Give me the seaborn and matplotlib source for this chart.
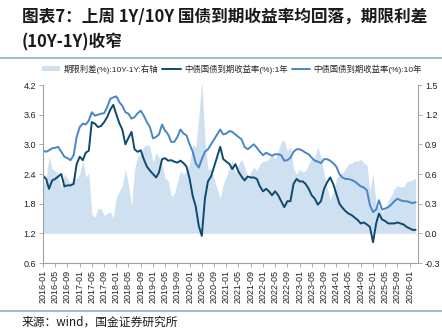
import numpy as np
import pandas as pd
import matplotlib
matplotlib.use("Agg")
import matplotlib.pyplot as plt
import seaborn as sns
from matplotlib.patches import Patch
from matplotlib.lines import Line2D

# ---- data (monthly) ----
start_month = "2016-01-01"
y10 = [2.87, 2.85, 2.88, 2.92, 2.93, 2.95, 2.85, 2.75, 2.72, 2.68, 2.78, 3.15,
       3.35, 3.42, 3.40, 3.48, 3.65, 3.58, 3.60, 3.62, 3.63, 3.75, 3.92, 3.95,
       3.97, 3.85, 3.78, 3.65, 3.62, 3.52, 3.55, 3.63, 3.68, 3.58, 3.45, 3.35,
       3.12, 3.15, 3.20, 3.40, 3.28, 3.20, 3.05, 3.05, 3.15, 3.30, 3.22, 3.18,
       3.00, 2.85, 2.62, 2.53, 2.70, 2.85, 2.90, 3.00, 3.10, 3.20, 3.30, 3.20,
       3.22, 3.27, 3.25, 3.20, 3.15, 3.10, 2.95, 2.90, 2.95, 3.00, 2.93, 2.85,
       2.78, 2.83, 2.80, 2.77, 2.80, 2.80, 2.78, 2.67, 2.68, 2.73, 2.85, 2.90,
       2.90, 2.87, 2.83, 2.80, 2.73, 2.67, 2.65, 2.62, 2.70, 2.70, 2.67, 2.62,
       2.55, 2.40, 2.33, 2.30, 2.30, 2.28, 2.25, 2.20, 2.15, 2.13, 2.07, 1.77,
       1.63, 1.68, 1.87, 1.68, 1.70, 1.73, 1.78, 1.85, 1.90, 1.87, 1.85, 1.85,
       1.83, 1.81, 1.83]
y1 = [2.37, 2.30, 2.10, 2.27, 2.30, 2.35, 2.40, 2.15, 2.17, 2.17, 2.20, 2.60,
      2.75, 2.68, 2.83, 2.87, 3.45, 3.42, 3.35, 3.37, 3.45, 3.55, 3.70, 3.80,
      3.60, 3.42, 3.30, 3.00, 3.13, 3.25, 2.90, 2.85, 2.88, 2.70, 2.55, 2.47,
      2.40, 2.33, 2.43, 2.70, 2.72, 2.67, 2.68, 2.65, 2.63, 2.67, 2.62, 2.55,
      2.30, 1.95, 1.75, 1.35, 1.15, 1.90, 2.25, 2.35, 2.55, 2.75, 2.95, 2.70,
      2.65, 2.60, 2.50, 2.60, 2.45, 2.35, 2.27, 2.35, 2.33, 2.33, 2.30, 2.15,
      2.05, 2.10, 2.05, 1.97, 2.05, 1.97, 1.85, 1.73, 1.85, 1.85, 2.20, 2.30,
      2.25, 2.25, 2.20, 2.10, 1.97, 1.90, 1.78, 1.85, 2.10, 2.23, 2.33, 2.20,
      2.00, 1.80, 1.72, 1.65, 1.60, 1.57, 1.52, 1.47, 1.40, 1.42, 1.38, 1.33,
      1.02, 1.40, 1.60, 1.48, 1.45, 1.40, 1.40, 1.40, 1.42, 1.40, 1.38, 1.33,
      1.30, 1.27, 1.27]
left_ticks = [0.6, 1.2, 1.8, 2.4, 3.0, 3.6, 4.2]
right_ticks = [-0.3, 0.0, 0.3, 0.6, 0.9, 1.2, 1.5]
legend_labels = ["期限利差(%):10Y-1Y:右轴", "中债国债到期收益率(%):1年", "中债国债到期收益率(%):10年"]
title_lines = ["图表7：上周 1Y/10Y 国债到期收益率均回落，期限利差", "(10Y-1Y)收窄"]
source_text = "来源：wind，国金证券研究所"

dates = pd.date_range(start_month, periods=len(y10), freq="MS")
df = pd.DataFrame({"date": dates, "y1": y1, "y10": y10})
df["spread"] = df["y10"] - df["y1"]

sns.set_style("white")
plt.rcParams["font.family"] = ["Liberation Sans", "Noto Sans CJK SC"]
plt.rcParams["axes.unicode_minus"] = False

c_area = "#cfe0f1"
c_1y = "#0e4a6e"
c_10y = "#4a86c6"
c_spine = "#a0a0a0"

fig = plt.figure(figsize=(4.42, 3.29), dpi=100)
ax = fig.add_axes([0.0973, 0.2006, 0.8484, 0.5410])
ax2 = ax.twinx()

ax2.fill_between(df["date"], 0, df["spread"], color=c_area, lw=0)
sns.lineplot(data=df, x="date", y="y10", ax=ax, color=c_10y, lw=1.4)
sns.lineplot(data=df, x="date", y="y1", ax=ax, color=c_1y, lw=1.4)

ax.set_zorder(ax2.get_zorder() + 1)
ax.patch.set_visible(False)

ax.set_ylim(0.6, 4.2)
ax2.set_ylim(-0.3, 1.5)
ax.set_yticks(left_ticks)
ax.set_yticklabels([f"{v:.1f}" for v in left_ticks])
ax2.set_yticks(right_ticks)
ax2.set_yticklabels([f"{v:.1f}" for v in right_ticks])

xticks = pd.date_range("2016-01-01", "2026-01-01", freq="4MS")
ax.set_xticks(xticks)
ax.set_xticklabels([d.strftime("%Y-%m") for d in xticks], rotation=90)
ax.set_xlim(pd.Timestamp("2016-01-01"), pd.Timestamp("2026-03-25"))
ax.set_xlabel("")
ax.set_ylabel("")
ax2.set_ylabel("")

for a in (ax, ax2):
    a.spines["top"].set_visible(False)
    for s in a.spines.values():
        s.set_color(c_spine)
        s.set_linewidth(0.8)
ax.spines["right"].set_visible(False)
ax2.spines["left"].set_visible(False)
ax2.spines["bottom"].set_visible(False)

ax.tick_params(axis="both", direction="out", length=3, width=0.6, color=c_spine,
               labelsize=6.5, labelcolor="#222222", pad=2)
ax.tick_params(axis="y", left=True)
ax.tick_params(axis="x", bottom=True)
ax2.tick_params(axis="y", direction="out", length=3, width=0.6, color=c_spine,
                labelsize=6.5, labelcolor="#222222", pad=2, right=True)
ax.grid(False)
ax2.grid(False)

handles = [Patch(facecolor=c_area, edgecolor="none"),
           Line2D([0], [0], color=c_1y, lw=1.4),
           Line2D([0], [0], color=c_10y, lw=1.4)]
fig.legend(handles, legend_labels, loc="center", bbox_to_anchor=(0.525, 0.790),
           ncol=3, frameon=False, fontsize=6, handlelength=2.2, handleheight=0.6,
           handletextpad=0.4, columnspacing=0.5, borderaxespad=0)

fig.text(0.05, 1 - 17 / 329, title_lines[0], fontsize=12, fontweight="bold",
         va="center", ha="left", color="#1a1a1a", family=["Noto Sans CJK SC", "DejaVu Sans"])
fig.text(0.05, 1 - 42 / 329, title_lines[1], fontsize=12, fontweight="bold",
         va="center", ha="left", color="#1a1a1a", family=["Noto Sans CJK SC", "DejaVu Sans"])
fig.add_artist(Line2D([0, 1], [1 - 58 / 329] * 2, color="#8fb2c8", lw=1.2,
                      transform=fig.transFigure))
fig.add_artist(Line2D([0, 1], [1 - 311 / 329] * 2, color="#8fb2c8", lw=1.2,
                      transform=fig.transFigure))
fig.text(0.05, 1 - 322 / 329, source_text, fontsize=8.5, va="center", ha="left",
         color="#1a1a1a", family=["Noto Sans CJK SC", "DejaVu Sans"])

fig.savefig("out.png", dpi=100)
